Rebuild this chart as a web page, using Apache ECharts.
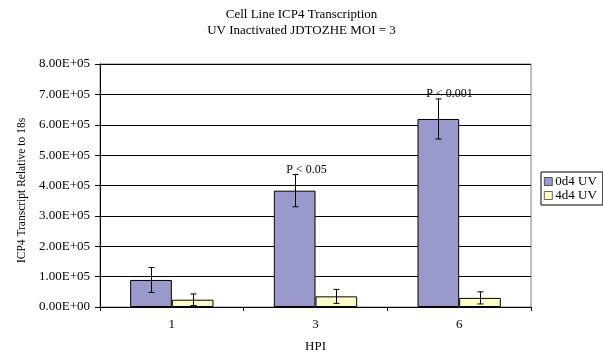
<!DOCTYPE html>
<html>
<head>
<meta charset="utf-8">
<script src="https://cdn.jsdelivr.net/npm/echarts@6/dist/echarts.min.js"></script>
<style>html,body{margin:0;padding:0;background:#fff;}#c{width:603px;height:358px;}</style>
</head>
<body>
<div id="c"></div>
<script>
var categories = ['1', '3', '6'];
var uv0 = [89000, 383000, 619000];
var uv0Err = [41000, 53000, 66000];
var uv4 = [24000, 35000, 30000];
var uv4Err = [19000, 23000, 20000];
var pLabels = ['', 'P < 0.05', 'P < 0.001'];
var yTicks = [0, 100000, 200000, 300000, 400000, 500000, 600000, 700000, 800000];

var FONT = 'Liberation Serif';
var CAT_GAP = 0.42;

function fmtExp(v) {
  if (v === 0) return '0.00E+00';
  var e = Math.floor(Math.log10(Math.abs(v)) + 1e-9);
  var m = v / Math.pow(10, e);
  return m.toFixed(2) + 'E' + (e >= 0 ? '+' : '-') + (Math.abs(e) < 10 ? '0' : '') + Math.abs(e);
}

function errData(vals, errs, which) {
  return vals.map(function (v, i) {
    return [i, v - errs[i], v + errs[i], which === 0 ? pLabels[i] : ''];
  });
}

function makeRender(sign) {
  return function (params, api) {
    var i = api.value(0);
    var band = api.size([1, 0])[0];
    var bw = band * (1 - CAT_GAP) / 2;
    var lo = api.coord([i, api.value(1)]);
    var hi = api.coord([i, api.value(2)]);
    var x = Math.round(lo[0] + sign * bw / 2) + 0.5;
    var cap = 3;
    var st = { stroke: '#000', lineWidth: 1 };
    var children = [
      { type: 'line', shape: { x1: x, y1: hi[1], x2: x, y2: lo[1] }, style: st },
      { type: 'line', shape: { x1: x - cap, y1: hi[1], x2: x + cap, y2: hi[1] }, style: st },
      { type: 'line', shape: { x1: x - cap, y1: lo[1], x2: x + cap, y2: lo[1] }, style: st }
    ];
    var lbl = api.value(3);
    if (lbl) {
      children.push({
        type: 'text',
        style: {
          text: lbl, x: x + 11, y: hi[1] - 5,
          textAlign: 'center', textVerticalAlign: 'middle',
          font: '12px "' + FONT + '"', fill: '#000'
        }
      });
    }
    return { type: 'group', children: children };
  };
}

var chart = echarts.init(document.getElementById('c'), null, { renderer: 'canvas' });
chart.setOption({
  animation: false,
  backgroundColor: '#fff',
  textStyle: { fontFamily: FONT, color: '#000' },
  title: {
    text: 'Cell Line ICP4 Transcription\nUV Inactivated JDTOZHE MOI = 3',
    left: 'center', top: 2,
    textStyle: { fontFamily: FONT, fontSize: 13, fontWeight: 'normal', color: '#000', lineHeight: 16 }
  },
  legend: {
    orient: 'vertical', left: 541, top: 172,
    padding: [3, 6, 3, 3], itemGap: 1,
    itemWidth: 8, itemHeight: 8, icon: 'rect',
    borderColor: '#000', borderWidth: 1,
    itemStyle: { borderWidth: 0.6 },
    textStyle: { fontFamily: FONT, fontSize: 13, color: '#000', lineHeight: 13, padding: [0, 0, 0, -2] },
    data: ['0d4 UV', '4d4 UV']
  },
  grid: { left: 100, right: 72, top: 64, bottom: 50, show: true, borderColor: '#808080', borderWidth: 1, backgroundColor: 'transparent' },
  xAxis: {
    type: 'category', data: categories,
    name: 'HPI', nameLocation: 'middle', nameGap: 33,
    nameTextStyle: { fontFamily: FONT, fontSize: 13, color: '#000' },
    axisLine: { lineStyle: { color: '#000', width: 1 } },
    axisTick: { show: true, inside: false, length: 4, lineStyle: { color: '#000' } },
    axisLabel: { fontFamily: FONT, fontSize: 13, color: '#000', margin: 11 }
  },
  yAxis: {
    type: 'value', min: 0, max: 800000, interval: 100000,
    name: 'ICP4 Transcript Relative to 18s', nameLocation: 'middle', nameGap: 70,
    nameTextStyle: { fontFamily: FONT, fontSize: 11.5, color: '#000', padding: [0, 10, 0, 0] },
    axisLine: { show: true, lineStyle: { color: '#000', width: 1 } },
    axisTick: { show: true, inside: false, length: 5, lineStyle: { color: '#000' } },
    axisLabel: { fontFamily: FONT, fontSize: 13, color: '#000', margin: 10,
      formatter: function (v) { return yTicks.indexOf(v) >= 0 ? fmtExp(v) : ''; } },
    splitLine: { show: true, lineStyle: { color: '#000', width: 1 } }
  },
  series: [
    { name: '0d4 UV', type: 'bar', data: uv0, barGap: '0%', barCategoryGap: (CAT_GAP * 100) + '%',
      itemStyle: { color: '#9999CC', borderColor: '#000', borderWidth: 1 } },
    { name: '4d4 UV', type: 'bar', data: uv4, barGap: '0%', barCategoryGap: (CAT_GAP * 100) + '%',
      itemStyle: { color: '#FFFFCC', borderColor: '#000', borderWidth: 1 } },
    { type: 'custom', renderItem: makeRender(-1), data: errData(uv0, uv0Err, 0), z: 5, silent: true,
      encode: { x: 0, y: [1, 2] } },
    { type: 'custom', renderItem: makeRender(1), data: errData(uv4, uv4Err, 1), z: 5, silent: true,
      encode: { x: 0, y: [1, 2] } }
  ]
});
</script>
</body>
</html>
